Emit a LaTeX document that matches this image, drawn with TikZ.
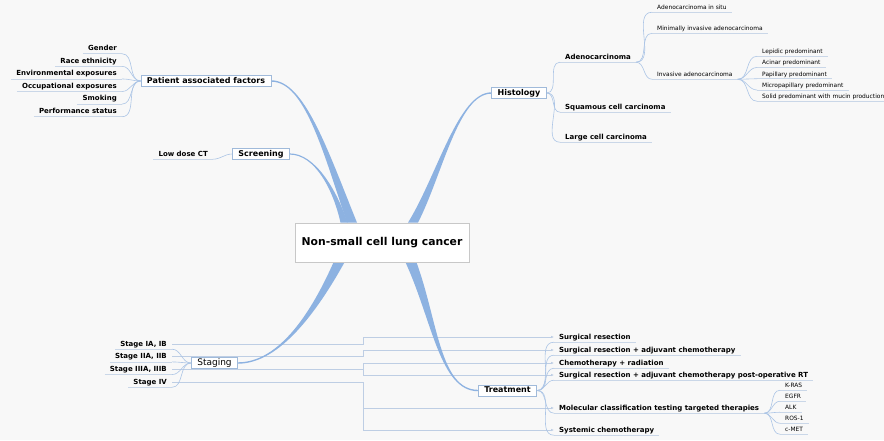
\documentclass[tikz,border=0pt]{standalone}
\usepackage{fontspec}
\setmainfont{DejaVu Sans}
\usetikzlibrary{calc}
\usetikzlibrary{arrows.meta}
\usetikzlibrary{backgrounds}
\definecolor{bggray}{RGB}{248,248,248}
\definecolor{mmblue}{RGB}{141,178,225}
\definecolor{lnblue}{RGB}{172,197,230}
\definecolor{ulgray}{RGB}{202,215,232}
\definecolor{relblue}{RGB}{190,206,228}
\definecolor{boxline}{RGB}{160,186,218}
\definecolor{centline}{RGB}{200,200,200}

\begin{document}
\begin{tikzpicture}[x=1pt, y=-1pt,
    central/.style={draw=centline, fill=white, line width=.7pt, minimum width=174pt, minimum height=39pt,
      font=\bfseries\fontsize{10.8}{12}\selectfont},
    topic/.style={draw=boxline, fill=white, line width=.6pt, inner xsep=6pt, inner ysep=1.6pt,
      text height=6pt, text depth=1.6pt, font=\bfseries\fontsize{8}{9}\selectfont},
    bleaf/.style={inner xsep=5pt, inner ysep=1.5pt, text height=5.5pt, text depth=1.5pt,
      font=\bfseries\fontsize{7}{8}\selectfont},
    sleaf/.style={inner xsep=5pt, inner ysep=1.2pt, text height=4.5pt, text depth=1.2pt,
      font=\fontsize{5.9}{7}\selectfont},
    branch/.style={fill=mmblue},
    conn/.style={draw=lnblue, line width=.6pt},
    uline/.style={draw=ulgray, line width=.6pt},
    rel/.style={draw=relblue, line width=.6pt, -{Latex[length=3pt,width=2.6pt]}}]
  \useasboundingbox (0,0) rectangle (884,440);

  % draw central topic and main topics
  \node[central] (nsclc) at (382,242.5) {Non-small cell lung cancer};
  \node[topic] (pat) at (206,81) {Patient associated factors};
  \node[topic] (scr) at (261,154) {Screening};
  \node[topic] (hist) at (519,93) {Histology};
  \node[topic, font=\fontsize{9}{10}\selectfont] (stg) at (214.5,363) {Staging};
  \node[topic] (trt) at (507.5,390.5) {Treatment};

  % draw left leaves
  \foreach \t [count=\i] in {Gender, Race ethnicity, Environmental exposures,
      Occupational exposures, Smoking, Performance status}
    \node[bleaf, anchor=east] (pf\i) at (122,{35.9+12.6*\i}) {\t};
  \node[bleaf, anchor=east] (ldct) at (213,154) {Low dose CT};
  \foreach \t [count=\i] in {{Stage IA, IB}, {Stage IIA, IIB}, {Stage IIIA, IIIB}, Stage IV}
    \node[bleaf, anchor=east] (st\i) at (172,{331.3+12.7*\i}) {\t};

  % draw histology leaves
  \node[bleaf, anchor=west] (hc1) at (560,57) {Adenocarcinoma};
  \node[bleaf, anchor=west] (hc2) at (560,107) {Squamous cell carcinoma};
  \node[bleaf, anchor=west] (hc3) at (560,137) {Large cell carcinoma};
  \node[sleaf, anchor=west] (ad1) at (652,8) {Adenocarcinoma in situ};
  \node[sleaf, anchor=west] (ad2) at (652,29) {Minimally invasive adenocarcinoma};
  \node[sleaf, anchor=west] (ad3) at (652,75) {Invasive adenocarcinoma};
  \foreach \t [count=\i] in {Lepidic predominant, Acinar predominant, Papillary predominant,
      Micropapillary predominant, Solid predominant with mucin production}
    \node[sleaf, anchor=west] (iv\i) at (757,{40.75+11.25*\i}) {\t};

  % draw treatment leaves
  \foreach \t/\y [count=\i] in {Surgical resection/337,
      Surgical resection + adjuvant chemotherapy/350,
      Chemotherapy + radiation/363,
      Surgical resection + adjuvant chemotherapy post-operative RT/375,
      Molecular classification testing targeted therapies/408,
      Systemic chemotherapy/430}
    \node[bleaf, anchor=west] (tr\i) at (554,\y) {\t};
  \foreach \t [count=\i] in {K-RAS, EGFR, ALK, ROS-1, c-MET}
    \node[sleaf, anchor=west] (mc\i) at (780,{375+11*\i}) {\t};

  \coordinate (relx) at (363,0);

  \begin{scope}[on background layer]
    \fill[bggray] (0,0) rectangle (884,440);

    % draw relations staging -> treatment
    \draw[rel] (st1.east) -- (st1.east -| relx) |- (tr1.west);
    \draw[rel] (st2.east) -- (st2.east -| relx) |- (tr2.west);
    \draw[rel] (st3.east) -- (st3.east -| relx) |- (tr3.west);
    \draw[rel] (st3.east) -- (st3.east -| relx) |- (tr4.west);
    \draw[rel] (st4.east) -- (st4.east -| relx) |- (tr5.west);
    \draw[rel] (st4.east) -- (st4.east -| relx) |- (tr6.west);

    % draw main branches (tapered)
    \fill[branch] ($(pat.east)+(0,-.7)$) .. controls +(33,0) and +(-29.5,-73) .. ($(nsclc.north)+(-25,0)$)
      -- ($(nsclc.north)+(-35,0)$) .. controls +(-24.5,-73) and +(33,0) .. ($(pat.east)+(0,.7)$) -- cycle;
    \fill[branch] ($(scr.east)+(0,-.6)$) .. controls +(25,0) and +(-10.75,-33) .. ($(nsclc.north)+(-34.5,0)$)
      -- ($(nsclc.north)+(-41.5,0)$) .. controls +(-7.25,-33) and +(25,0) .. ($(scr.east)+(0,.6)$) -- cycle;
    \fill[branch] ($(hist.west)+(0,-.7)$) .. controls +(-33,0) and +(29.5,-48) .. ($(nsclc.north)+(26,0)$)
      -- ($(nsclc.north)+(36,0)$) .. controls +(24.5,-48) and +(-33,0) .. ($(hist.west)+(0,.7)$) -- cycle;
    \fill[branch] ($(stg.east)+(0,-.7)$) .. controls +(42,0) and +(-21.25,48) .. ($(nsclc.south)+(-48.5,0)$)
      -- ($(nsclc.south)+(-37.5,0)$) .. controls +(-26.75,48) and +(42,0) .. ($(stg.east)+(0,.7)$) -- cycle;
    \fill[branch] ($(trt.west)+(0,-.7)$) .. controls +(-38,0) and +(21.25,58) .. ($(nsclc.south)+(34.5,0)$)
      -- ($(nsclc.south)+(23.5,0)$) .. controls +(26.75,58) and +(-38,0) .. ($(trt.west)+(0,.7)$) -- cycle;

    % draw underlines and connectors
    \foreach \n in {pf1,pf2,pf3,pf4,pf5,pf6,ldct,st1,st2,st3,st4,hc1,hc2,hc3,ad1,ad2,ad3,
        iv1,iv2,iv3,iv4,iv5,tr1,tr2,tr3,tr4,tr5,tr6,mc1,mc2,mc3,mc4,mc5}
      \draw[uline] (\n.south west) -- (\n.south east);
    \foreach \i in {1,...,6}
      \draw[conn] (pat.west) to[out=180,in=0] (pf\i.south east);
    \draw[conn] (scr.west) to[out=180,in=0] (ldct.south east);
    \foreach \i in {1,...,4}
      \draw[conn] (stg.west) to[out=180,in=0] (st\i.south east);
    \foreach \i in {1,2,3}
      \draw[conn] (hist.east) to[out=0,in=180] (hc\i.south west);
    \foreach \i in {1,2,3}
      \draw[conn] (hc1.south east) to[out=0,in=180] (ad\i.south west);
    \foreach \i in {1,...,5}
      \draw[conn] (ad3.south east) to[out=0,in=180] (iv\i.south west);
    \foreach \i in {1,...,6}
      \draw[conn] (trt.east) to[out=0,in=180] (tr\i.south west);
    \foreach \i in {1,...,5}
      \draw[conn] (tr5.south east) to[out=0,in=180] (mc\i.south west);
  \end{scope}
\end{tikzpicture}
\end{document}
